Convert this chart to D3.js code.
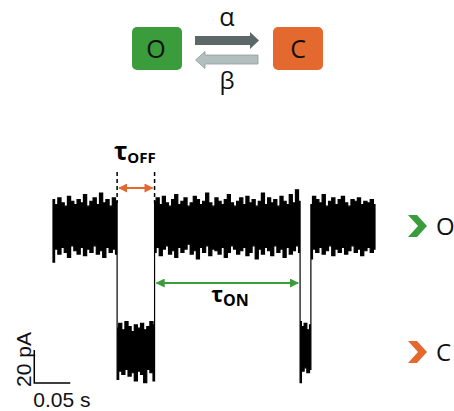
<!DOCTYPE html>
<html>
<head>
<meta charset="utf-8">
<script src="https://cdn.jsdelivr.net/npm/d3@7"></script>
<style>
  html, body { margin: 0; padding: 0; background: #fff; }
  svg { display: block; }
</style>
</head>
<body>
<svg id="chart" width="454" height="411"></svg>
<script>
// ---------- DATA ----------
// Dwell segments of the single-channel record (seconds)
const segments = [
  { state: "O", start: 0.000, end: 0.089 },
  { state: "C", start: 0.089, end: 0.141 },
  { state: "O", start: 0.141, end: 0.343 },
  { state: "C", start: 0.343, end: 0.358 },
  { state: "O", start: 0.358, end: 0.447 }
];
// Upper / lower noise envelope of each segment (pA)
const open1Top = [90, 87, 91, 88, 86, 92, 89, 87, 90, 88, 93, 86, 89, 91, 87, 94, 88, 90, 86, 91, 89];
const open1Bot = [52, 60, 57, 61, 58, 55, 62, 59, 57, 61, 56, 60, 58, 62, 57, 59, 55, 61, 58, 60, 57];
const closed1Top = [12, 15, 11, 16, 13, 10, 14, 12, 15, 11, 13, 16, 14];
const closed1Bot = [-19, -14, -16, -13, -17, -15, -20, -14, -16, -21, -13, -15, -20];
const open2Top = [89, 91, 87, 92, 88, 86, 90, 93, 87, 89, 91, 86, 88, 92, 90, 87, 89, 94, 88, 86, 91, 89, 87, 90, 93, 88, 86, 89, 91, 87, 92, 88, 90, 86, 89, 94, 87, 91, 88, 90, 86, 92, 89, 87, 93, 88, 96, 89];
const open2Bot = [58, 61, 56, 60, 62, 57, 59, 55, 61, 58, 60, 63, 57, 59, 54, 61, 58, 62, 56, 60, 59, 57, 61, 55, 58, 62, 60, 57, 59, 61, 56, 58, 62, 54, 60, 57, 61, 59, 56, 62, 58, 60, 55, 61, 57, 59, 62, 58];
const closed2Top = [16, 13, 15, 11, 14];
const closed2Bot = [-21, -14, -12, -15, -13];
const open3Top = [87, 92, 90, 88, 93, 86, 89, 91, 87, 90, 92, 88, 86, 90, 89, 91, 87, 89, 88, 90, 87];
const open3Bot = [54, 60, 58, 61, 57, 59, 62, 56, 60, 58, 61, 57, 59, 62, 58, 60, 56, 59, 61, 58, 60];
const envelopeTop = [open1Top, closed1Top, open2Top, closed2Top, open3Top];
const envelopeBot = [open1Bot, closed1Bot, open2Bot, closed2Bot, open3Bot];
// Scale bar
const scaleBarCurrent = 20;      // pA
const scaleBarTime = 0.05;       // s
const scaleBarOrigin = [-0.026, -21.2]; // [s, pA]
const scaleBarLabels = ["20 pA", "0.05 s"];
// Labels
const stateLabels = ["O", "C"];
const stateLevels = [74, 0];     // pA
const rateLabels = ["α", "β"];

// ---------- COLOURS ----------
const green = "#3a9c3b";
const orange = "#e4692f";

const svg = d3.select("#chart");
const x = d3.scaleLinear().domain([0, 0.447]).range([53, 375]);
const y = d3.scaleLinear().domain([0, 74]).range([348, 226]);

// ---------- KINETIC SCHEME ----------
const scheme = svg.append("g");
scheme.append("rect").attr("x", 132).attr("y", 27).attr("width", 50).attr("height", 43)
  .attr("rx", 5).attr("fill", green);
scheme.append("rect").attr("x", 273).attr("y", 27).attr("width", 50).attr("height", 43)
  .attr("rx", 5).attr("fill", orange);
scheme.append("text").attr("x", 156).attr("y", 58).attr("text-anchor", "middle")
  .attr("font-family", "Open Sans").attr("font-size", 25).attr("fill", "#111").text(stateLabels[0]);
scheme.append("text").attr("x", 298).attr("y", 58).attr("text-anchor", "middle")
  .attr("font-family", "Open Sans").attr("font-size", 25).attr("fill", "#111").text(stateLabels[1]);
scheme.append("path")
  .attr("d", "M195,36 L250,36 L250,32 L259,40.5 L250,49 L250,45 L195,45 Z")
  .attr("fill", "#5c6868");
scheme.append("path")
  .attr("d", "M258,55 L205,55 L205,51.5 L195.5,60 L205,68.5 L205,64 L258,64 Z")
  .attr("fill", "#b3bfbf").attr("stroke", "#8f9b9b").attr("stroke-width", 0.8);
scheme.append("text").attr("x", 227).attr("y", 26).attr("text-anchor", "middle")
  .attr("font-family", "Open Sans").attr("font-size", 25).attr("fill", "#111").text(rateLabels[0]);
scheme.append("text").attr("x", 227).attr("y", 89).attr("text-anchor", "middle")
  .attr("font-family", "Open Sans").attr("font-size", 24).attr("fill", "#111").text(rateLabels[1]);

// ---------- TRACE ----------
const topPts = [], botPts = [];
segments.forEach((s, i) => {
  const tv = envelopeTop[i], bv = envelopeBot[i];
  tv.forEach((v, j) => topPts.push([s.start + (s.end - s.start) * j / (tv.length - 1), v]));
  bv.forEach((v, j) => botPts.push([s.start + (s.end - s.start) * j / (bv.length - 1), v]));
});
const stepLine = d3.line().x(d => x(d[0])).y(d => y(d[1])).curve(d3.curveStep);
const topPath = stepLine(topPts);
const botPathRev = stepLine(botPts.slice().reverse());
svg.append("path").attr("d", topPath + "L" + botPathRev.slice(1) + "Z")
  .attr("fill", "#000").attr("stroke", "#000").attr("stroke-width", 1.2)
  .attr("stroke-linejoin", "miter");

// ---------- DWELL ANNOTATIONS ----------
const defs = svg.append("defs");
function marker(id, color) {
  defs.append("marker").attr("id", id).attr("viewBox", "0 0 10 10")
    .attr("refX", 9).attr("refY", 5).attr("markerWidth", 4.5).attr("markerHeight", 4.5)
    .attr("orient", "auto-start-reverse")
    .append("path").attr("d", "M0,0 L10,5 L0,10 Z").attr("fill", color);
}
marker("arrO", orange);
marker("arrG", green);

const tOff = segments[1];
[tOff.start, tOff.end].forEach(t => {
  svg.append("line").attr("x1", x(t)).attr("x2", x(t)).attr("y1", 172).attr("y2", 203)
    .attr("stroke", "#000").attr("stroke-width", 1.5).attr("stroke-dasharray", "4,3");
});
svg.append("line").attr("x1", x(tOff.start) + 2).attr("x2", x(tOff.end) - 2)
  .attr("y1", 188).attr("y2", 188).attr("stroke", orange).attr("stroke-width", 2)
  .attr("marker-start", "url(#arrO)").attr("marker-end", "url(#arrO)");
const tOffLabel = svg.append("text").attr("x", (x(tOff.start) + x(tOff.end)) / 2 - 1).attr("y", 160)
  .attr("text-anchor", "middle").attr("font-family", "Open Sans").attr("font-weight", "bold")
  .attr("fill", "#000");
tOffLabel.append("tspan").attr("font-size", 25).text("τ");
tOffLabel.append("tspan").attr("font-size", 15).attr("dy", 3).text("OFF");

const tOn = segments[2];
svg.append("line").attr("x1", x(tOn.start) + 2).attr("x2", x(tOn.end) - 2)
  .attr("y1", 283).attr("y2", 283).attr("stroke", green).attr("stroke-width", 2)
  .attr("marker-start", "url(#arrG)").attr("marker-end", "url(#arrG)");
const tOnLabel = svg.append("text").attr("x", 230).attr("y", 302)
  .attr("text-anchor", "middle").attr("font-family", "Open Sans").attr("font-weight", "bold")
  .attr("fill", "#000");
tOnLabel.append("tspan").attr("font-size", 22).text("τ");
tOnLabel.append("tspan").attr("font-size", 16).attr("dy", 4).text("ON");

// ---------- STATE MARKERS ----------
const chev = [[0, 0], [9, 0], [19, 11], [9, 22], [0, 22], [10, 11]];
stateLevels.forEach((lv, i) => {
  const cy = i === 0 ? y(lv) + 0 : y(lv) + 4;
  svg.append("path")
    .attr("d", "M" + chev.map(p => [408 + p[0], cy - 11 + p[1]].join(",")).join("L") + "Z")
    .attr("fill", i === 0 ? green : orange);
  svg.append("text").attr("x", 436).attr("y", cy + 9)
    .attr("font-family", "Open Sans").attr("font-size", 24).attr("fill", "#111").text(stateLabels[i]);
});

// ---------- SCALE BAR ----------
const sx0 = x(scaleBarOrigin[0]), sy0 = y(scaleBarOrigin[1]);
const sx1 = x(scaleBarOrigin[0] + scaleBarTime), sy1 = y(scaleBarOrigin[1] + scaleBarCurrent);
svg.append("path").attr("d", `M${sx0},${sy1} L${sx0},${sy0} L${sx1},${sy0}`)
  .attr("fill", "none").attr("stroke", "#000").attr("stroke-width", 1.5);
svg.append("text").attr("transform", `translate(${sx0 - 3},${sy0 + 4}) rotate(-90)`)
  .attr("font-family", "Liberation Sans, Arial").attr("font-size", 21).attr("fill", "#111")
  .text(scaleBarLabels[0]);
svg.append("text").attr("x", sx0 - 1).attr("y", sy0 + 24)
  .attr("font-family", "Liberation Sans, Arial").attr("font-size", 21).attr("fill", "#111")
  .text(scaleBarLabels[1]);
</script>
</body>
</html>
